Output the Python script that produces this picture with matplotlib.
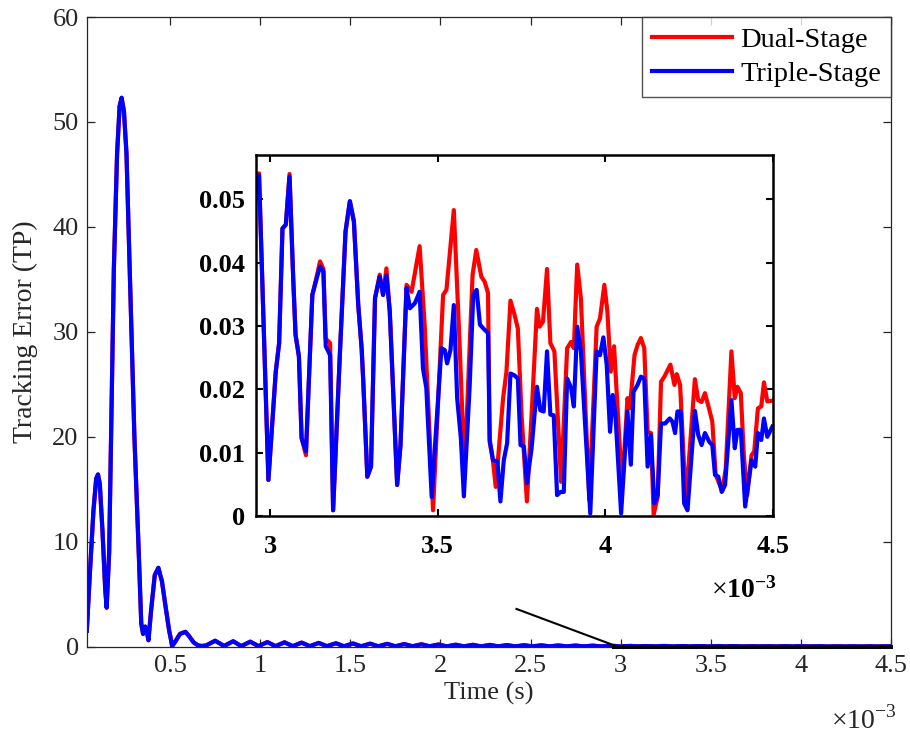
import matplotlib
matplotlib.use("Agg")
import matplotlib.pyplot as plt
from matplotlib.patches import Rectangle

plt.rcParams['font.family'] = ['Liberation Serif', 'DejaVu Serif']
plt.rcParams['mathtext.fontset'] = 'custom'
plt.rcParams['mathtext.rm'] = 'Liberation Serif'
plt.rcParams['mathtext.bf'] = 'Liberation Serif:bold'

# ---------------- data (time in ms, error in TP) ----------------
t_early = [0.038, 0.055, 0.075, 0.090, 0.100, 0.110, 0.125, 0.140, 0.148, 0.162,
           0.188, 0.206, 0.220, 0.231, 0.244, 0.258, 0.276, 0.302, 0.326, 0.340,
           0.350, 0.362, 0.370, 0.380, 0.395, 0.415, 0.435, 0.455, 0.475, 0.495,
           0.512, 0.530, 0.555, 0.585, 0.605, 0.630, 0.655, 0.675]
e_early = [1.5, 7.0, 13.0, 16.0, 16.4, 15.5, 11.0, 5.5, 3.7, 9.0,
           36, 47, 51.5, 52.3, 51, 47, 36, 20, 9, 2.2,
           1.2, 1.9, 1.5, 0.6, 3.5, 6.8, 7.5, 6.2, 3.8, 1.5,
           0.05, 0.5, 1.2, 1.4, 1.0, 0.4, 0.1, 0.05]

t_tail = [0.70, 0.75, 0.80, 0.85, 0.895, 0.945, 0.99, 1.04, 1.085, 1.135, 1.18, 1.23,
          1.275, 1.325, 1.37, 1.42, 1.465, 1.515, 1.56, 1.61, 1.655, 1.705, 1.75, 1.80,
          1.845, 1.895, 1.94, 1.99, 2.035, 2.085, 2.13, 2.18, 2.225, 2.275, 2.32, 2.37,
          2.415, 2.465, 2.51, 2.56, 2.605, 2.655, 2.70, 2.75, 2.795, 2.845, 2.89, 2.94]
e_tail = [0.10, 0.55, 0.05, 0.50, 0.04, 0.46, 0.04, 0.42, 0.03, 0.40, 0.03, 0.37,
          0.03, 0.34, 0.03, 0.31, 0.02, 0.29, 0.02, 0.27, 0.02, 0.25, 0.02, 0.23,
          0.02, 0.21, 0.02, 0.19, 0.01, 0.17, 0.01, 0.16, 0.01, 0.15, 0.01, 0.13,
          0.01, 0.12, 0.01, 0.11, 0.01, 0.10, 0.01, 0.09, 0.01, 0.08, 0.01, 0.06]

# zoomed region, Dual-Stage
t_dual = [2.955, 2.967, 2.995, 3.017, 3.027, 3.037, 3.047, 3.058, 3.069, 3.076,
          3.086, 3.094, 3.107, 3.126, 3.139, 3.149, 3.159, 3.166, 3.179, 3.188,
          3.208, 3.225, 3.238, 3.250, 3.263, 3.273, 3.278, 3.290, 3.301, 3.313,
          3.327, 3.337, 3.347, 3.357, 3.379, 3.389, 3.407, 3.422, 3.446, 3.461,
          3.486, 3.516, 3.526, 3.548, 3.565, 3.580, 3.604, 3.615, 3.630, 3.640,
          3.650, 3.655, 3.665, 3.673, 3.695, 3.705, 3.717, 3.729, 3.739, 3.750,
          3.766, 3.781, 3.796, 3.804, 3.814, 3.826, 3.836, 3.848, 3.868, 3.886,
          3.898, 3.906, 3.916, 3.927, 3.952, 3.974, 3.984, 3.997, 4.006, 4.016,
          4.026, 4.033, 4.050, 4.066, 4.073, 4.087, 4.096, 4.106, 4.116, 4.126,
          4.136, 4.144, 4.156, 4.166, 4.176, 4.194, 4.206, 4.213, 4.223, 4.240,
          4.267, 4.277, 4.287, 4.297, 4.309, 4.319, 4.329, 4.339, 4.349, 4.359,
          4.376, 4.386, 4.394, 4.404, 4.413, 4.423, 4.436, 4.444, 4.455, 4.465,
          4.473, 4.483, 4.498]
e_dual = [0.0507, 0.0541, 0.0057, 0.0228, 0.0273, 0.0454, 0.0460, 0.0540, 0.0375, 0.0286,
          0.0252, 0.0123, 0.0096, 0.0349, 0.0378, 0.0402, 0.0390, 0.0280, 0.0273, 0.0009,
          0.0254, 0.0449, 0.0497, 0.0465, 0.0333, 0.0265, 0.0212, 0.0062, 0.0078, 0.0344,
          0.0381, 0.0349, 0.0391, 0.0323, 0.0049, 0.0112, 0.0365, 0.0354, 0.0426, 0.0302,
          0.0009, 0.0349, 0.0357, 0.0483, 0.0275, 0.0070, 0.0381, 0.0420, 0.0378, 0.0370,
          0.0352, 0.0117, 0.0086, 0.0046, 0.0186, 0.0228, 0.0340, 0.0318, 0.0296, 0.0160,
          0.0023, 0.0170, 0.0327, 0.0299, 0.0307, 0.0390, 0.0273, 0.0260, 0.0054, 0.0265,
          0.0275, 0.0265, 0.0397, 0.0344, 0.0025, 0.0299, 0.0312, 0.0365, 0.0323, 0.0228,
          0.0268, 0.0202, 0.0044, 0.0186, 0.0170, 0.0254, 0.0270, 0.0281, 0.0265, 0.0133,
          0.0131, 0.0002, 0.0030, 0.0212, 0.0220, 0.0239, 0.0207, 0.0224, 0.0207, 0.0020,
          0.0216, 0.0183, 0.0180, 0.0194, 0.0170, 0.0149, 0.0065, 0.0052, 0.0040, 0.0075,
          0.0260, 0.0186, 0.0204, 0.0194, 0.0096, 0.0033, 0.0096, 0.0102, 0.0170, 0.0173,
          0.0211, 0.0181, 0.0182]

# zoomed region, Triple-Stage
t_triple = [2.955, 2.967, 2.995, 3.017, 3.027, 3.037, 3.047, 3.058, 3.069, 3.076,
            3.086, 3.094, 3.107, 3.126, 3.139, 3.149, 3.159, 3.166, 3.179, 3.188,
            3.208, 3.225, 3.238, 3.250, 3.263, 3.273, 3.278, 3.290, 3.301, 3.313,
            3.327, 3.337, 3.347, 3.357, 3.379, 3.389, 3.407, 3.417, 3.432, 3.446,
            3.456, 3.466, 3.482, 3.511, 3.521, 3.528, 3.538, 3.548, 3.558, 3.569,
            3.578, 3.595, 3.606, 3.616, 3.626, 3.640, 3.650, 3.655, 3.665, 3.678,
            3.687, 3.697, 3.707, 3.717, 3.729, 3.739, 3.747, 3.757, 3.766, 3.780,
            3.796, 3.806, 3.816, 3.826, 3.836, 3.846, 3.856, 3.866, 3.876, 3.886,
            3.898, 3.906, 3.916, 3.927, 3.955, 3.974, 3.984, 3.994, 4.004, 4.014,
            4.022, 4.030, 4.047, 4.066, 4.076, 4.084, 4.096, 4.106, 4.116, 4.126,
            4.136, 4.146, 4.156, 4.166, 4.178, 4.192, 4.200, 4.208, 4.215, 4.225,
            4.235, 4.245, 4.267, 4.277, 4.287, 4.297, 4.310, 4.319, 4.327, 4.337,
            4.347, 4.357, 4.376, 4.386, 4.394, 4.404, 4.417, 4.436, 4.447, 4.455,
            4.465, 4.473, 4.483, 4.498]
e_triple = [0.0507, 0.0538, 0.0057, 0.0228, 0.0273, 0.0454, 0.0460, 0.0536, 0.0375, 0.0286,
            0.0252, 0.0123, 0.0102, 0.0349, 0.0375, 0.0394, 0.0386, 0.0268, 0.0254, 0.0009,
            0.0254, 0.0449, 0.0497, 0.0465, 0.0333, 0.0265, 0.0212, 0.0062, 0.0078, 0.0344,
            0.0378, 0.0349, 0.0380, 0.0323, 0.0049, 0.0112, 0.0360, 0.0328, 0.0336, 0.0354,
            0.0233, 0.0202, 0.0030, 0.0265, 0.0262, 0.0241, 0.0262, 0.0333, 0.0186, 0.0123,
            0.0031, 0.0202, 0.0349, 0.0357, 0.0302, 0.0294, 0.0289, 0.0120, 0.0088, 0.0086,
            0.0023, 0.0088, 0.0115, 0.0225, 0.0222, 0.0217, 0.0112, 0.0110, 0.0052, 0.0107,
            0.0204, 0.0167, 0.0165, 0.0260, 0.0160, 0.0159, 0.0033, 0.0038, 0.0038, 0.0217,
            0.0202, 0.0173, 0.0299, 0.0260, 0.0004, 0.0260, 0.0254, 0.0282, 0.0239, 0.0133,
            0.0191, 0.0160, 0.0004, 0.0165, 0.0081, 0.0196, 0.0207, 0.0220, 0.0217, 0.0078,
            0.0128, 0.0020, 0.0033, 0.0146, 0.0146, 0.0154, 0.0149, 0.0131, 0.0165, 0.0165,
            0.0020, 0.0009, 0.0166, 0.0128, 0.0112, 0.0131, 0.0117, 0.0112, 0.0065, 0.0062,
            0.0038, 0.0049, 0.0183, 0.0107, 0.0136, 0.0136, 0.0015, 0.0088, 0.0078, 0.0131,
            0.0120, 0.0154, 0.0125, 0.0141]

main_xticks = [0.5, 1, 1.5, 2, 2.5, 3, 3.5, 4, 4.5]
main_yticks = [0, 10, 20, 30, 40, 50, 60]
inset_xticks = [3, 3.5, 4, 4.5]
inset_yticks = [0, 0.01, 0.02, 0.03, 0.04, 0.05]
labels = ['Dual-Stage', 'Triple-Stage']

t_d = t_early + t_tail + t_dual
e_d = e_early + e_tail + e_dual
t_t = t_early + t_tail + t_triple
e_t = e_early + e_tail + e_triple

# ---------------- figure ----------------
W, H = 910, 734
fig = plt.figure(figsize=(W / 100, H / 100), dpi=100)
gray = '#262626'

ax = fig.add_axes([87 / W, 1 - 646.5 / H, 804 / W, 629.5 / H])
ax.plot(t_d, e_d, color='#ff0000', lw=3.0, label=labels[0], solid_joinstyle='round')
ax.plot(t_t, e_t, color='#0000ff', lw=3.0, label=labels[1], solid_joinstyle='round')
ax.set_xlim(0.039, 4.5)
ax.set_ylim(0, 60)
ax.set_xticks(main_xticks)
ax.set_xticklabels(['0.5', '1', '1.5', '2', '2.5', '3', '3.5', '4', '4.5'])
ax.set_yticks(main_yticks)
ax.tick_params(direction='in', length=6, width=0.9, colors=gray, labelsize=19,
               top=True, right=True, pad=6)
for s in ax.spines.values():
    s.set_color(gray)
    s.set_linewidth(0.9)
ax.set_xlabel('Time (s)', fontsize=19, color=gray, labelpad=4)
ax.set_ylabel('Tracking Error (TP)', fontsize=20, color=gray, labelpad=10)
fig.text(897 / W, 1 - 729 / H, r'$\times10^{-3}$', fontsize=20, color=gray,
         ha='right', va='baseline')

# zoom box + connector
ax.add_patch(Rectangle((2.958, 0), 4.5 - 2.958, 0.057, fill=False, edgecolor='black',
                       lw=2.2, zorder=5, clip_on=False))
ax.plot([2.422, 2.965], [3.58, 0.1], color='black', lw=1.5, zorder=5)

leg = ax.legend(loc='upper right', fontsize=20.5, frameon=True, fancybox=False,
                borderaxespad=0, borderpad=0.35, labelspacing=0.3,
                handlelength=2.8, handletextpad=0.3)
leg.get_frame().set_edgecolor(gray)
leg.get_frame().set_linewidth(1.0)

# ---------------- inset ----------------
ax2 = fig.add_axes([256 / W, 1 - 516 / H, 517 / W, 361 / H])
ax2.plot(t_dual, e_dual, color='#ff0000', lw=3.0, solid_joinstyle='round')
ax2.plot(t_triple, e_triple, color='#0000ff', lw=3.0, solid_joinstyle='round')
ax2.set_xlim(2.958, 4.5)
ax2.set_ylim(0, 0.057)
ax2.set_xticks(inset_xticks)
ax2.set_xticklabels(['3', '3.5', '4', '4.5'])
ax2.set_yticks(inset_yticks)
ax2.set_yticklabels(['0', '0.01', '0.02', '0.03', '0.04', '0.05'])
ax2.tick_params(direction='in', length=5, width=1.5, colors='black', labelsize=19,
                top=True, right=True)
ax2.tick_params(axis='x', pad=14)
ax2.tick_params(axis='y', pad=8)
for lab in ax2.get_xticklabels() + ax2.get_yticklabels():
    lab.set_fontweight('bold')
for s in ax2.spines.values():
    s.set_color('black')
    s.set_linewidth(1.8)
fig.text(777 / W, 1 - 598 / H, r'$\times\mathbf{10^{-3}}$', fontsize=20, color='black',
         ha='right', va='baseline')

fig.savefig('out.png', dpi=100)
